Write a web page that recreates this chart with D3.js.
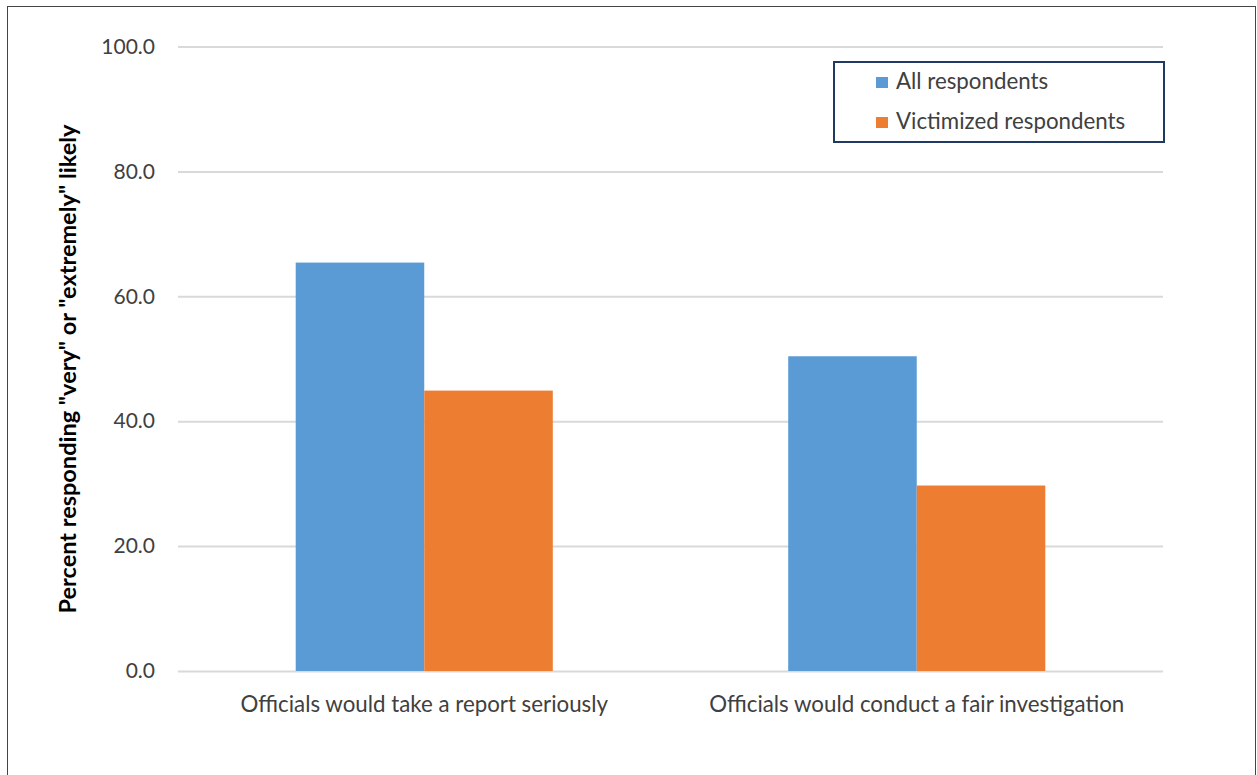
<!DOCTYPE html>
<html>
<head>
<meta charset="utf-8">
<script src="https://cdn.jsdelivr.net/npm/d3@7"></script>
<style>
  html, body { margin: 0; padding: 0; background: #fff; }
  svg { display: block; }
  text { font-family: Lato, "Liberation Sans", sans-serif; fill: #404040; }
</style>
</head>
<body>
<svg id="chart" width="1257" height="775"></svg>
<script>
const categories = ["Officials would take a report seriously", "Officials would conduct a fair investigation"];
const seriesNames = ["All respondents", "Victimized respondents"];
const allRespondents = [65.4, 50.4];
const victimizedRespondents = [44.9, 29.7];
const yTicks = [0, 20, 40, 60, 80, 100];
const colors = ["#5b9bd5", "#ed7d31"];
const yTitle = 'Percent responding "very" or "extremely" likely';

const seriesValues = [allRespondents, victimizedRespondents];
const svg = d3.select("#chart");

// outer frame
svg.append("rect").attr("x", 7.5).attr("y", 6.5).attr("width", 1248).attr("height", 790)
  .attr("fill", "#fff").attr("stroke", "#444").attr("stroke-width", 1);

const plotLeft = 178, plotRight = 1163, plotTop = 46.5, plotBottom = 671;
const y = d3.scaleLinear().domain([0, 100]).range([plotBottom, plotTop]);
const x0 = d3.scaleBand().domain(categories).range([plotLeft, plotRight]).paddingInner(0.478).paddingOuter(0.239);
const x1 = d3.scaleBand().domain(seriesNames).range([0, x0.bandwidth()]);

// gridlines
const yAxis = d3.axisLeft(y).tickValues(yTicks).tickFormat(d3.format(".1f")).tickSize(-(plotRight - plotLeft)).tickPadding(23);
const gy = svg.append("g").attr("transform", `translate(${plotLeft},0)`).call(yAxis);
gy.select(".domain").remove();
gy.selectAll(".tick line").attr("stroke", "#d9d9d9").attr("stroke-width", 2);
gy.selectAll(".tick text").attr("font-size", 21).attr("fill", "#404040")
  .style("font-family", "Lato, sans-serif");

// bars
const groups = svg.append("g").selectAll("g").data(categories).join("g")
  .attr("transform", d => `translate(${x0(d)},0)`);
groups.selectAll("rect").data((d, i) => seriesNames.map((s, j) => ({ s, v: seriesValues[j][i], j })))
  .join("rect")
  .attr("x", d => x1(d.s))
  .attr("y", d => y(d.v))
  .attr("width", x1.bandwidth())
  .attr("height", d => y(0) - y(d.v))
  .attr("fill", d => colors[d.j]);

// x axis labels
const xAxis = d3.axisBottom(x0).tickSize(0).tickPadding(25);
const gx = svg.append("g").attr("transform", `translate(0,${plotBottom})`).call(xAxis);
gx.select(".domain").remove();
gx.selectAll(".tick text").attr("font-size", 22.3).attr("fill", "#404040")
  .style("font-family", "Lato, sans-serif");

// y title
svg.append("text")
  .attr("transform", `translate(76,369) rotate(-90)`)
  .attr("text-anchor", "middle")
  .attr("font-size", 23.5).attr("font-weight", "bold")
  .style("fill", "#000")
  .text(yTitle);

// legend
const lg = svg.append("g");
lg.append("rect").attr("x", 834).attr("y", 62).attr("width", 330).attr("height", 80)
  .attr("fill", "#fff").attr("stroke", "#1f3864").attr("stroke-width", 2);
seriesNames.forEach((s, i) => {
  const base = 89 + i * 40;
  lg.append("rect").attr("x", 876).attr("y", base - 12).attr("width", 12).attr("height", 11).attr("fill", colors[i]);
  lg.append("text").attr("x", 896).attr("y", base).attr("font-size", 22.3).attr("fill", "#404040").text(s);
});
</script>
</body>
</html>
